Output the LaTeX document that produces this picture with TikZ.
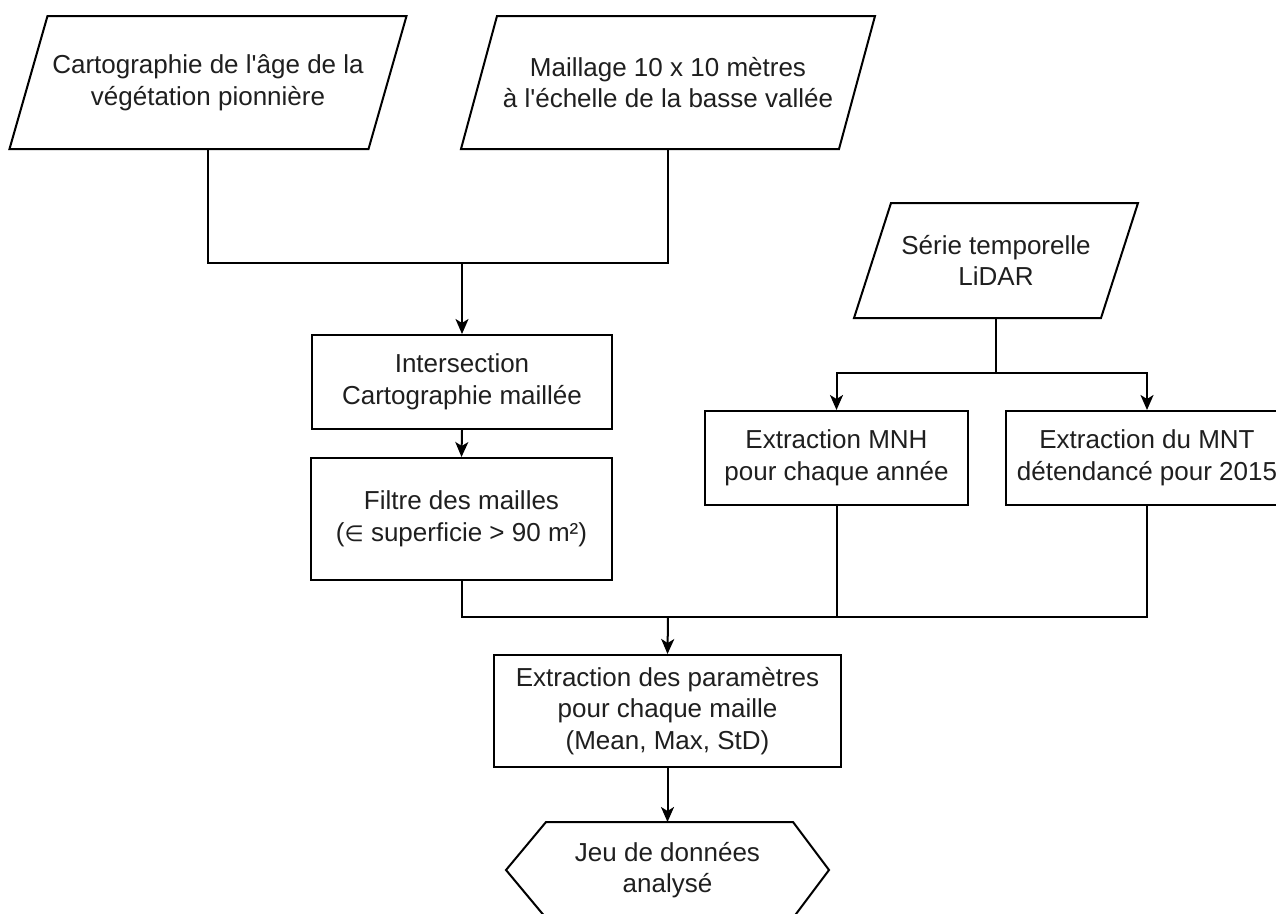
\documentclass[tikz,border=0pt]{standalone}
\usepackage{fontspec}
\setmainfont{Liberation Sans}[Ligatures=TeXOff]
\newfontfamily\symfont{DejaVu Sans}
\usetikzlibrary{arrows.meta,calc}
\begin{document}
\begin{tikzpicture}[x=1pt,y=-1pt,
  line width=2pt,
  every node/.style={font=\fontsize{26}{31.5}\selectfont, align=center, inner sep=0pt, text=black!88},
  boxnode/.style={draw=black, minimum width=#1, minimum height=94pt},
  txt/.style={minimum width=#1, minimum height=131pt},
  arr/.style={-{Stealth[length=15pt,width=13pt,inset=4pt]}}
]
\useasboundingbox[fill=white] (0,0) rectangle (1276,913);

% parallelograms (text nodes + shapes)
\node[txt=357pt] (p1) at (208,82.5) {Cartographie de l'âge de la\\végétation pionnière};
\draw ($(p1.north west)+(19,0)$) -- ($(p1.north east)+(19,0)$) -- ($(p1.south east)+(-19,0)$) -- ($(p1.south west)+(-19,0)$) -- cycle;

\node[txt=376pt] (p2) at (668,82.5) {Maillage 10 x 10 mètres\\à l'échelle de la basse vallée};
\draw ($(p2.north west)+(18,0)$) -- ($(p2.north east)+(18,0)$) -- ($(p2.south east)+(-18,0)$) -- ($(p2.south west)+(-18,0)$) -- cycle;

\node[txt=245pt, minimum height=113pt] (serie) at (996,260.5) {Série temporelle\\LiDAR};
\draw ($(serie.north west)+(18.5,0)$) -- ($(serie.north east)+(18.5,0)$) -- ($(serie.south east)+(-18.5,0)$) -- ($(serie.south west)+(-18.5,0)$) -- cycle;

% boxes
\node[boxnode=300pt] (inter) at (462,382) {Intersection\\Cartographie maillée};
\node[boxnode=301pt, minimum height=122pt] (filtre) at (461.5,519) {Filtre des mailles\\({\symfont\fontsize{22}{26}\selectfont ∈} superficie > 90 m²)};
\node[boxnode=263pt] (mnh) at (836.5,458) {Extraction MNH\\pour chaque année};
\node[boxnode=282pt] (mnt) at (1147,458) {Extraction du MNT\\détendancé pour 2015};
\node[boxnode=347pt, minimum height=112pt] (param) at (667.5,711) {Extraction des paramètres\\pour chaque maille\\(Mean, Max, StD)};

% hexagon
\node[minimum width=321pt, minimum height=94pt] (jeu) at (667.5,870) {Jeu de données\\analysé};
\draw (jeu.west) -- ($(jeu.north west)+(40,0)$) -- ($(jeu.north east)+(-36,0)$) -- (jeu.east) -- ($(jeu.south east)+(-36,0)$) -- ($(jeu.south west)+(40,0)$) -- cycle;

% junctions
\coordinate (j1) at (462,263);
\coordinate (j2) at (668,617);
\coordinate (j3) at (996,373);

\draw (p1.south) |- (j1);
\draw (p2.south) |- (j1);
\draw[arr] (j1) -- (inter.north);
\draw[arr] (inter.south) -- (filtre.north);

\draw (serie.south) -- (j3);
\draw[arr] (j3) -| (mnh.north);
\draw[arr] (j3) -| (mnt.north);

\draw (filtre.south) |- (j2);
\draw (mnh.south) |- (j2);
\draw (mnt.south) |- (j2);
\draw[arr] (j2) -- (param.north);
\draw[arr] (param.south) -- (jeu.north);
\end{tikzpicture}
\end{document}
